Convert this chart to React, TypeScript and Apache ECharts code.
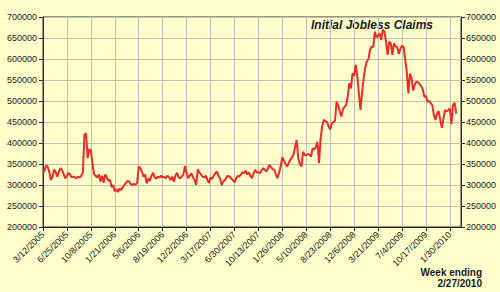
import React, { useEffect, useRef } from "react";
import * as echarts from "echarts";

const tickLabels = [
  "3/12/2005", "6/25/2005", "10/8/2005", "1/21/2006", "5/6/2006", "8/19/2006",
  "12/2/2006", "3/17/2007", "6/30/2007", "10/13/2007", "1/26/2008", "5/10/2008",
  "8/23/2008", "12/6/2008", "3/21/2009", "7/4/2009", "10/17/2009", "1/30/2010",
];

// weekly initial claims, thousands (3/12/2005 .. 2/27/2010)
const claimsK = [
  328, 335, 347, 343, 330, 312, 320, 337, 330, 320, 333, 340, 335, 325, 316,
  322, 329, 325, 318, 320, 318, 316, 320, 318, 322, 330, 420, 423, 364, 385,
  383, 350, 326, 322, 318, 325, 308, 322, 305, 325, 318, 310, 312, 295, 300,
  285, 290, 283, 292, 288, 295, 300, 305, 310, 308, 302, 300, 303, 300, 305,
  344, 340, 332, 320, 325, 304, 315, 310, 322, 329, 318, 315, 320, 318, 322,
  318, 320, 316, 322, 318, 312, 320, 308, 322, 329, 318, 316, 320, 325, 345,
  330, 316, 322, 328, 318, 312, 300, 337, 330, 325, 320, 318, 322, 312, 305,
  318, 315, 322, 328, 332, 322, 315, 300, 308, 312, 318, 322, 320, 315, 312,
  306, 315, 322, 320, 325, 330, 328, 334, 325, 330, 322, 316, 328, 336, 330,
  330, 328, 335, 340, 336, 332, 340, 348, 342, 338, 336, 325, 316, 330, 345,
  366, 358, 350, 344, 352, 360, 365, 372, 390, 407, 364, 350, 344, 379, 372,
  370, 374, 372, 368, 387, 385, 390, 403, 352, 410, 440, 455, 452, 450, 440,
  432, 447, 450, 452, 498, 490, 475, 463, 480, 486, 490, 510, 542, 530, 566,
  560, 586, 560, 518, 479, 520, 554, 580, 594, 600, 622, 630, 628, 665, 652,
  655, 661, 645, 670, 665, 641, 610, 641, 637, 610, 637, 630, 628, 612, 624,
  632, 628, 600, 570, 518, 565, 555, 525, 538, 546, 545, 540, 536, 528, 510,
  512, 498, 500, 495, 490, 467, 455, 470, 476, 455, 436, 458, 479, 475, 478,
  482, 445, 490, 496, 470,
];

const titleText = "Initial Jobless Claims";
const noteLine1 = "Week ending";
const noteLine2 = "2/27/2010";

const FONT = "Arial, 'Liberation Sans', sans-serif";

export default function App() {
  const ref = useRef<HTMLDivElement>(null);
  useEffect(() => {
    if (!ref.current) return;
    const chart = echarts.init(ref.current, undefined, { renderer: "svg" });
    const yAxisBase = {
      type: "value",
      min: 200000,
      max: 700000,
      interval: 50000,
      axisLine: { show: true, lineStyle: { color: "#303030", width: 1 } },
      axisTick: { show: true, length: 4, lineStyle: { color: "#303030" } },
      axisLabel: {
        fontSize: 9,
        color: "#1a1a1a",
        fontFamily: FONT,
        formatter: (v: number) => String(v),
      },
    };
    chart.setOption({
      animation: false,
      backgroundColor: "#FFFFCC",
      grid: {
        left: 43,
        right: 39,
        top: 17,
        bottom: 65,
        show: true,
        borderColor: "#303030",
        borderWidth: 1,
        backgroundColor: "transparent",
      },
      xAxis: {
        type: "value",
        min: 0,
        max: 262,
        interval: 15,
        axisLine: { show: true, lineStyle: { color: "#202020", width: 1 } },
        axisTick: { show: true, length: 4, lineStyle: { color: "#202020" } },
        axisLabel: {
          rotate: 45,
          fontSize: 9,
          color: "#1a1a1a",
          fontFamily: FONT,
          margin: 6,
          showMaxLabel: false,
          formatter: (v: number) =>
            v % 15 === 0 && tickLabels[v / 15] ? tickLabels[v / 15] : "",
        },
        splitLine: { show: true, lineStyle: { color: "#C0C0B8", width: 1 } },
      },
      yAxis: [
        {
          ...yAxisBase,
          position: "left",
          axisLabel: { ...yAxisBase.axisLabel, margin: 6 },
          splitLine: { show: true, lineStyle: { color: "#C0C0B8", width: 1 } },
        },
        {
          ...yAxisBase,
          position: "right",
          axisLabel: { ...yAxisBase.axisLabel, margin: 5 },
          splitLine: { show: false },
        },
      ],
      series: [
        {
          type: "line",
          yAxisIndex: 0,
          showSymbol: false,
          data: claimsK.map((v, i) => [i, v * 1000]),
          lineStyle: { color: "#EE2B2B", width: 2 },
          itemStyle: { color: "#EE2B2B" },
        },
      ],
      graphic: [
        {
          type: "text",
          x: 311,
          y: 25,
          style: {
            text: titleText,
            font: `italic bold 12px ${FONT}`,
            fill: "#1a1a1a",
            align: "left",
            verticalAlign: "middle",
          },
        },
        {
          type: "text",
          x: 482,
          y: 272,
          style: {
            text: noteLine1,
            font: `bold 10px ${FONT}`,
            fill: "#1a1a1a",
            align: "right",
            verticalAlign: "middle",
          },
        },
        {
          type: "text",
          x: 482,
          y: 283,
          style: {
            text: noteLine2,
            font: `bold 10px ${FONT}`,
            fill: "#1a1a1a",
            align: "right",
            verticalAlign: "middle",
          },
        },
      ],
    });
    return () => chart.dispose();
  }, []);
  return (
    <div
      ref={ref}
      style={{ position: "absolute", left: 0, top: 0, width: 500, height: 292, background: "#FFFFCC" }}
    />
  );
}
